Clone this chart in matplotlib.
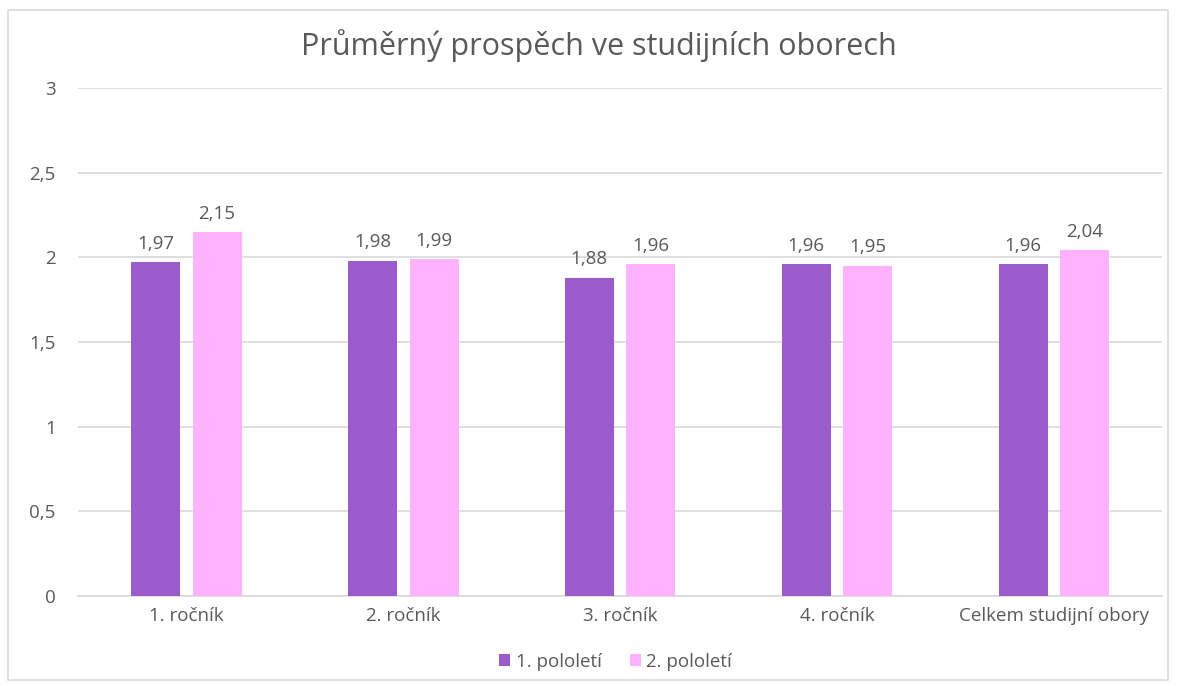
import matplotlib
matplotlib.use("Agg")
import matplotlib.pyplot as plt
from matplotlib.patches import Rectangle
import numpy as np

categories = ["1. ročník", "2. ročník", "3. ročník", "4. ročník", "Celkem studijní obory"]
pololeti_1 = [1.97, 1.98, 1.88, 1.96, 1.96]
pololeti_2 = [2.15, 1.99, 1.96, 1.95, 2.04]
series_names = ["1. pololetí", "2. pololetí"]
yticks = [0, 0.5, 1, 1.5, 2, 2.5, 3]

PURPLE = "#9B5BCB"
PINK = "#FFB3FF"
TXT = "#595959"
GRID = "#D9D9D9"

plt.rcParams["font.family"] = ["Open Sans", "DejaVu Sans"]

fig = plt.figure(figsize=(11.79, 6.86), dpi=100)
fig.patch.set_facecolor("white")
ax = fig.add_axes([0.066, 0.131, 0.920, 0.741])

# outer chart border
fig.patches.append(Rectangle((0.007, 0.009), 0.984, 0.976, transform=fig.transFigure,
                             fill=False, edgecolor="#D9D9D9", lw=1.2))

x = np.arange(len(categories))
w = 0.226
off = 0.142
b1 = ax.bar(x - off, pololeti_1, w, color=PURPLE, label=series_names[0], zorder=3)
b2 = ax.bar(x + off, pololeti_2, w, color=PINK, label=series_names[1], zorder=3)

for bars, vals in ((b1, pololeti_1), (b2, pololeti_2)):
    for r, v in zip(bars, vals):
        ax.text(r.get_x() + r.get_width() / 2, v + 0.055, f"{v:.2f}".replace(".", ","),
                ha="center", va="bottom", fontsize=13.5, color=TXT, zorder=4)

ax.set_xlim(-0.5, len(categories) - 0.5)
ax.set_ylim(0, 3)
ax.set_yticks(yticks)
ax.set_yticklabels([f"{t:g}".replace(".", ",") for t in yticks])
ax.set_xticks(x)
ax.set_xticklabels(categories)
ax.tick_params(axis="both", length=0, labelsize=13.5, colors=TXT)
ax.tick_params(axis="y", pad=16)
ax.tick_params(axis="x", pad=8)
ax.yaxis.grid(True, color=GRID, lw=1.2, zorder=0)
for s in ("top", "right", "left"):
    ax.spines[s].set_visible(False)
ax.spines["bottom"].set_color(GRID)
ax.spines["bottom"].set_linewidth(1.2)

fig.text(0.508, 0.934, "Průměrný prospěch ve studijních oborech", ha="center", va="center",
         fontsize=22, color=TXT)

leg = fig.legend(loc="center", bbox_to_anchor=(0.522, 0.035), ncol=2, frameon=False,
                 fontsize=13.5, handlelength=0.6, handleheight=0.6, handletextpad=0.3,
                 columnspacing=1.5)
for t in leg.get_texts():
    t.set_color(TXT)

fig.savefig("out.png", dpi=100, facecolor="white")
